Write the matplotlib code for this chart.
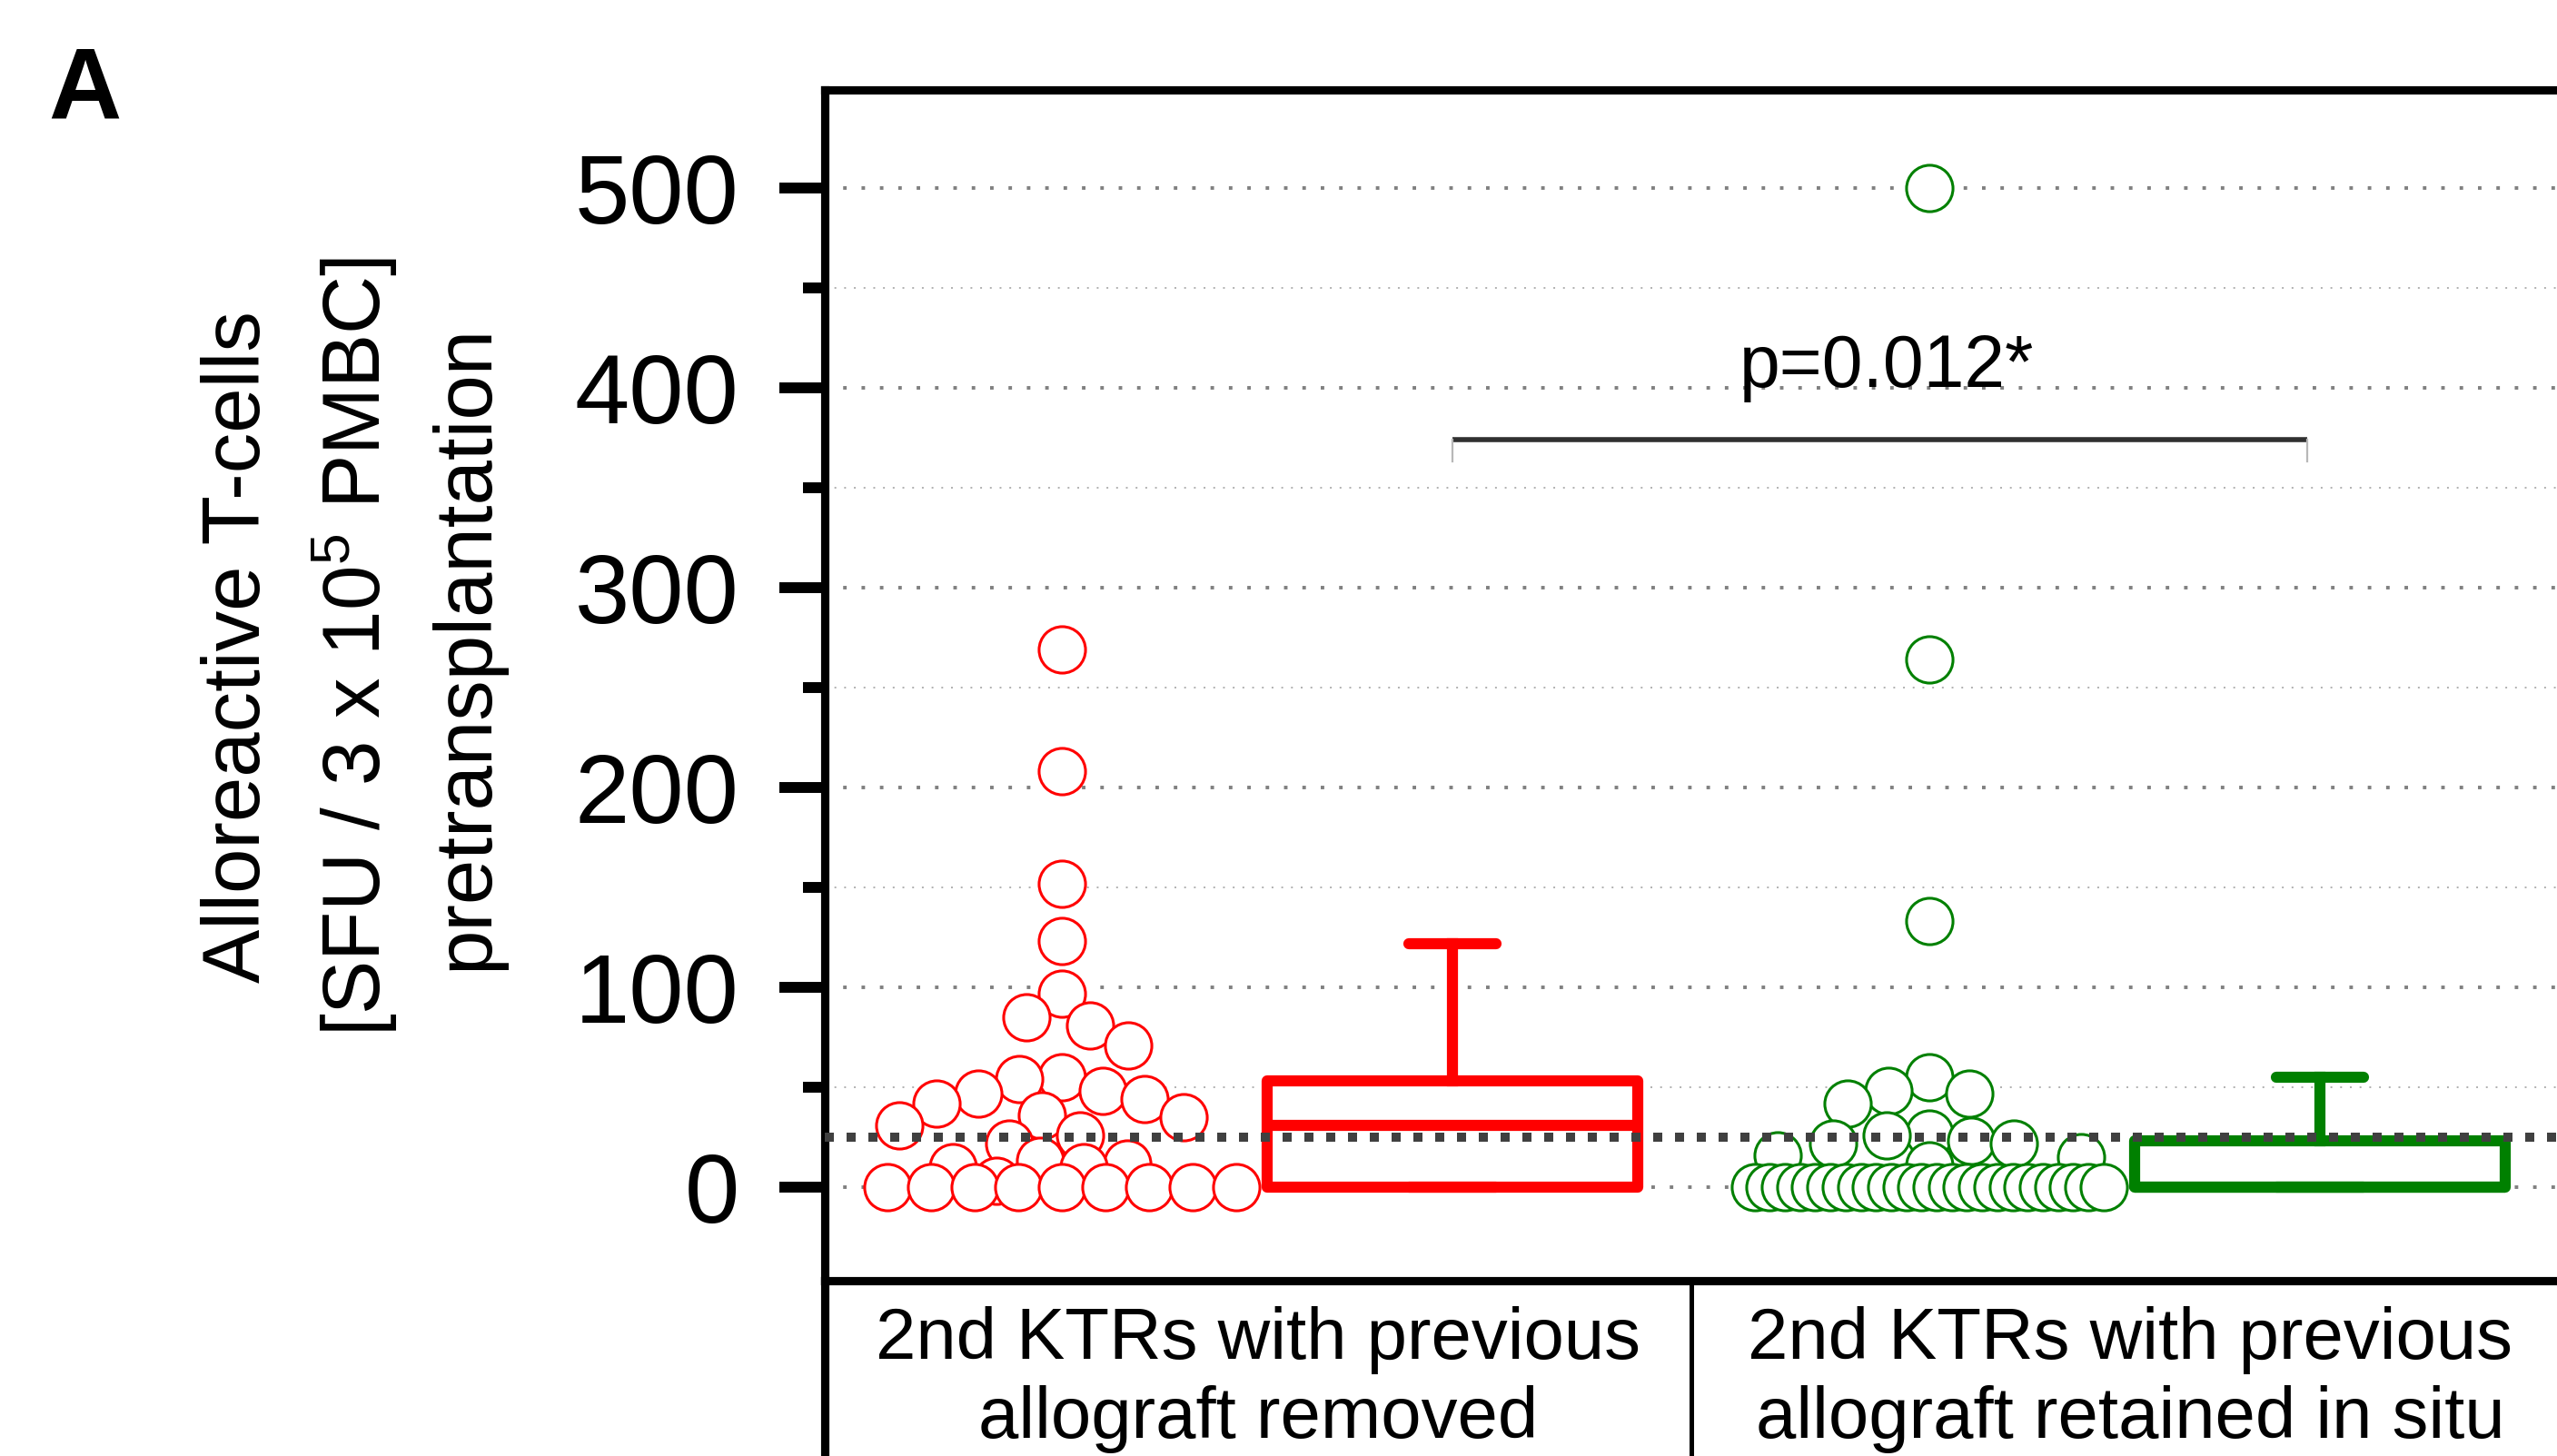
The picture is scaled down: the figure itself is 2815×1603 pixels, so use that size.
import numpy as np
import matplotlib
matplotlib.use("Agg")
import matplotlib.pyplot as plt
from matplotlib.lines import Line2D
from matplotlib.ticker import MultipleLocator

plt.rcParams['font.family'] = ['Liberation Sans', 'DejaVu Sans']
plt.rcParams['mathtext.fontset'] = 'custom'
plt.rcParams['mathtext.rm'] = 'Liberation Sans'
plt.rcParams['mathtext.it'] = 'Liberation Sans:italic'
plt.rcParams['mathtext.bf'] = 'Liberation Sans:bold'

# ---------------- data ----------------
categories = ["2nd KTRs with previous\nallograft removed",
              "2nd KTRs with previous\nallograft retained in situ"]
removed_values = [269, 208, 152, 123, 97, 85, 81, 71, 55, 54, 48, 47, 44, 42,
                  36, 35, 31, 26, 22, 13, 12, 10, 10, 3,
                  0, 0, 0, 0, 0, 0, 0, 0, 0]
retained_values = [500, 264, 133, 55, 48, 47, 42, 27, 26, 23, 22, 22, 16, 15, 11,
                   0, 0, 0, 0, 0, 0, 0, 0, 0, 0, 0, 0,
                   0, 0, 0, 0, 0, 0, 0, 0, 0, 0, 0, 0]
box_q1 = [0, 0]
box_median = [31, 0]
box_q3 = [53, 23]
box_whisker_low = [0, 0]
box_whisker_high = [122, 55]
threshold = 25
p_label = "p=0.012*"
p_bracket_y = 374
y_ticks = [0, 100, 200, 300, 400, 500]
colors = ['#ff0000', '#008000']

# ---------------- figure ----------------
W, H = 2815, 1603
DPI = 200
fig = plt.figure(figsize=(W / DPI, H / DPI), dpi=DPI)
fig.patch.set_facecolor('white')

ax_left, ax_right, ax_top, ax_bot = 908, 2818, 99, 1410
ax = fig.add_axes([ax_left / W, 1 - ax_bot / H, (ax_right - ax_left) / W, (ax_bot - ax_top) / H])
ax.set_xlim(0, 2)
ax.set_ylim(-46.8, 549)

for s in ['left', 'top', 'bottom']:
    ax.spines[s].set_linewidth(3.3)
    ax.spines[s].set_color('black')
ax.spines['right'].set_visible(False)

ax.set_yticks(y_ticks)
ax.yaxis.set_minor_locator(MultipleLocator(50))
ax.set_xticks([])
ax.tick_params(axis='y', which='major', length=18, width=4.3, pad=16, labelsize=39, direction='out')
ax.tick_params(axis='y', which='minor', length=8.5, width=4.3, direction='out')

# grid lines
for y in np.arange(0, 550, 50):
    if y % 100 == 0:
        ax.axhline(y, color='#808080', lw=1.4, ls=(0, (1, 4.2)), dash_capstyle='butt', zorder=0)
    else:
        ax.axhline(y, color='#b0b0b0', lw=0.7, ls=(0, (1, 4.5)), dash_capstyle='butt', zorder=0)

# ---------------- swarm layout ----------------
scatter_off = 0.273
box_off = 0.7236


def swarm_x(values, center, half_width_px=192, diam_px=52, min_frac=0.9):
    vals = np.asarray(values, dtype=float)
    pts = ax.transData.transform(np.column_stack([np.full(len(vals), center), vals]))
    ys = pts[:, 1]
    px_per_x = ax.transData.transform((1, 0))[0] - ax.transData.transform((0, 0))[0]
    offs = np.full(len(vals), np.nan)
    px_l, py_l = [], []
    # rows of repeated values: spread evenly across the column
    uniq, counts = np.unique(vals, return_counts=True)
    for u, n in zip(uniq, counts):
        if n < 3:
            continue
        idx = np.where(vals == u)[0]
        if n * diam_px > 2 * half_width_px:
            pos = np.linspace(-half_width_px, half_width_px, n)
        else:
            pos = (np.arange(n) - (n - 1) / 2) * diam_px
        for k, i in enumerate(idx):
            offs[i] = pos[k]
            px_l.append(pos[k])
            py_l.append(ys[i])
    cands = np.arange(-half_width_px, half_width_px + 0.5, 1.0)
    cands = cands[np.argsort(np.abs(cands), kind='stable')]
    rest = [i for i in np.argsort(-ys, kind='stable') if np.isnan(offs[i])]
    for i in rest:
        y = ys[i]
        if px_l:
            px = np.array(px_l)
            py = np.array(py_l)
            d = np.sqrt((cands[:, None] - px[None, :]) ** 2 + (y - py[None, :]) ** 2).min(axis=1)
            ok = np.where(d >= min_frac * diam_px)[0]
            j = ok[0] if len(ok) else int(np.argmax(d))
        else:
            j = 0
        offs[i] = cands[j]
        px_l.append(cands[j])
        py_l.append(y)
    return center + offs / px_per_x


for i, vals in enumerate([removed_values, retained_values]):
    xs = swarm_x(vals, i + scatter_off)
    ax.scatter(xs, vals, s=18.4 ** 2, facecolors='white', edgecolors=colors[i],
               linewidths=1.1, zorder=3, clip_on=False)

# ---------------- boxes ----------------
for i in range(2):
    stats = [dict(med=box_median[i], q1=box_q1[i], q3=box_q3[i],
                  whislo=box_whisker_low[i], whishi=box_whisker_high[i], fliers=[])]
    c = colors[i]
    ax.bxp(stats, positions=[i + box_off], widths=0.427, capwidths=0.1,
           showfliers=False, patch_artist=True, manage_ticks=False, zorder=4,
           boxprops=dict(facecolor='white', edgecolor=c, linewidth=4.4, joinstyle='round'),
           whiskerprops=dict(color=c, linewidth=4.4),
           capprops=dict(color=c, linewidth=4.4, solid_capstyle='round'),
           medianprops=dict(color=c, linewidth=4.4))

# threshold dashed line
ax.axhline(threshold, color='#404040', lw=3.6, ls=(0, (1, 1.4)), dash_capstyle='butt', zorder=6)

# significance bracket
bx0, bx1 = box_off, 1.709
ax.plot([bx0, bx1], [p_bracket_y, p_bracket_y], color='#303030', lw=2.0, zorder=5,
        solid_capstyle='butt')
for bx in (bx0, bx1):
    ax.plot([bx, bx], [p_bracket_y, p_bracket_y - 11], color='#b8b8b8', lw=0.8, zorder=5)
ax.text(1.224, 410, p_label, ha='center', va='center', fontsize=29, color='black')

# ---------------- figure-level text & table lines ----------------
fig.text(93 / W, 1 - 102 / H, 'A', ha='center', va='center', fontsize=40, fontweight='bold')
fig.text(388 / W, 1 - 712 / H,
         "Alloreactive T-cells\n[SFU / 3 x 10$^5$ PMBC]\npretransplantation",
         rotation=90, ha='center', va='center', multialignment='center',
         fontsize=32, linespacing=1.47)

fig.add_artist(Line2D([ax_left / W, ax_left / W], [0, 1 - ax_bot / H],
                      transform=fig.transFigure, color='black', lw=3.3))
fig.add_artist(Line2D([1862 / W, 1862 / W], [0, 1 - ax_bot / H],
                      transform=fig.transFigure, color='black', lw=1.8))

cat_centers = [1385, 2345]
for cx, lab in zip(cat_centers, categories):
    fig.text(cx / W, 1 - 1438 / H, lab, ha='center', va='top', fontsize=28.7,
             linespacing=1.2, multialignment='center')

fig.savefig('out.png', dpi=DPI, facecolor='white')
